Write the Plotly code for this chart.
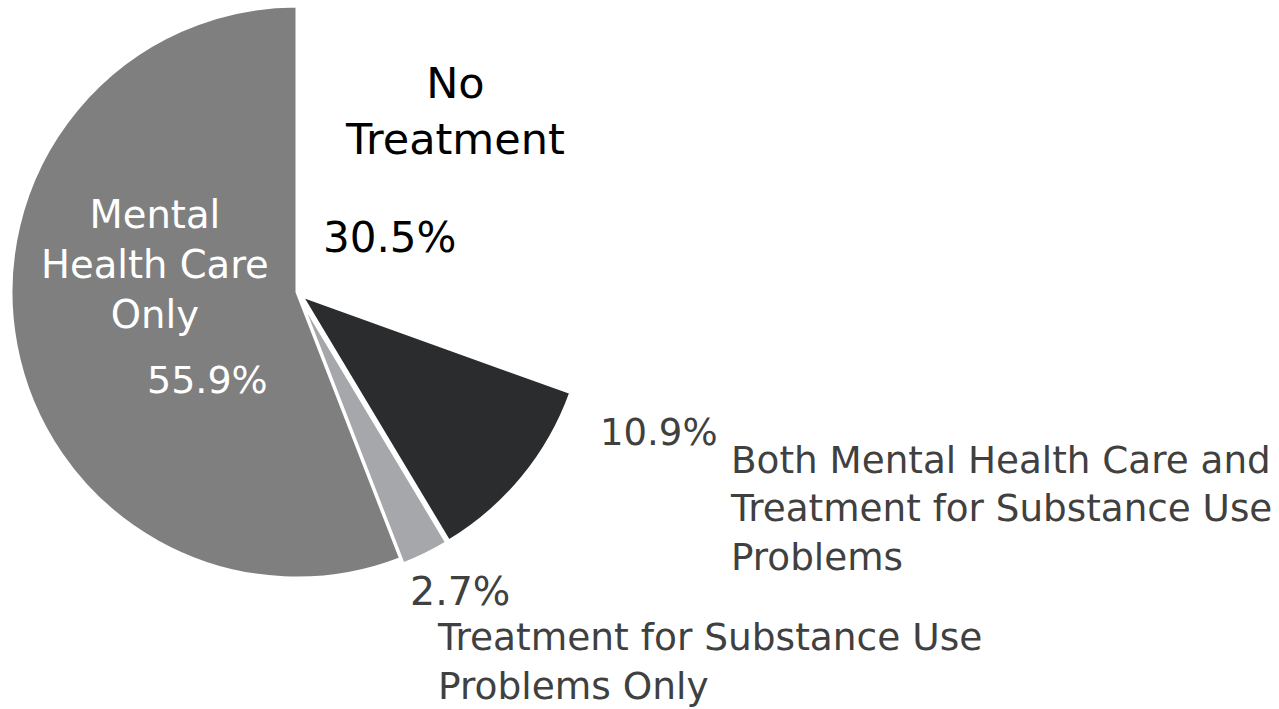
import plotly.graph_objects as go

W, H = 1279, 709

categories = ["No Treatment",
              "Both Mental Health Care and Treatment for Substance Use Problems",
              "Treatment for Substance Use Problems Only",
              "Mental Health Care Only"]
values = [30.5, 10.9, 2.7, 55.9]
colors = ["#ffffff", "#2b2c2e", "#a6a7aa", "#7f7f7f"]
pulls = [0, 0.021, 0.021, 0]

fig = go.Figure(go.Pie(
    labels=categories, values=values, sort=False, direction="clockwise",
    rotation=0, pull=pulls, textinfo="none", hoverinfo="skip",
    marker=dict(colors=colors, line=dict(color="#ffffff", width=3)),
    domain=dict(x=[4 / W, 590 / W], y=[1 - 584 / H, 1 - 0 / H]),
    showlegend=False,
))

FONT = "DejaVu Sans"

def px(x, y):
    return x / W, 1 - y / H

def ann(text, x, y, size, color, xanchor="center", align="center"):
    xx, yy = px(x, y)
    fig.add_annotation(text=text, x=xx, y=yy, xref="paper", yref="paper",
                       xanchor=xanchor, yanchor="middle", align=align,
                       showarrow=False, font=dict(family=FONT, size=size, color=color))

ann("No<br>Treatment", 455, 111, 43, "#000000")
ann(f"{values[0]}%", 389, 238, 42, "#000000")
ann("Mental<br>Health Care<br>Only", 155, 264, 38.5, "#ffffff")
ann(f"{values[3]}%", 207, 380, 38, "#ffffff")
ann(f"{values[1]}%", 659, 432, 37, "#404040")
ann("Both Mental Health Care and<br>Treatment for Substance Use<br>Problems", 728, 508, 37.3, "#404040", "left", "left")
ann(f"{values[2]}%", 408, 591, 39.5, "#404040", "left")
ann("Treatment for Substance Use<br>Problems Only", 435, 661, 37.5, "#404040", "left", "left")

fig.update_layout(width=W, height=H, margin=dict(l=0, r=0, t=0, b=0),
                  paper_bgcolor="#ffffff", plot_bgcolor="#ffffff")

fig.write_html("out.html")
